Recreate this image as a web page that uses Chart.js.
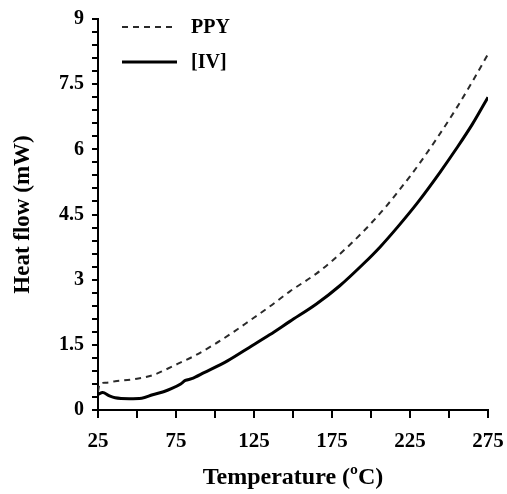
<!DOCTYPE html>
<html>
<head>
<meta charset="utf-8">
<script src="https://cdn.jsdelivr.net/npm/chart.js@4"></script>
<style>
  html, body { margin: 0; padding: 0; background: #fff; }
  #wrap { width: 507px; height: 494px; }
</style>
</head>
<body>
<div id="wrap"><canvas id="grafico" width="507" height="494"></canvas></div>
<script>
// datos
const seriesNames = ['PPY', '[IV]'];
const ppyTemp = [25, 26, 30, 36, 50, 60, 66, 76, 87, 100, 112, 122, 135, 148, 165, 175, 194, 210, 225, 231, 242, 255, 265, 275];
const ppyFlow = [0.42, 0.60, 0.63, 0.66, 0.72, 0.80, 0.89, 1.06, 1.25, 1.52, 1.80, 2.05, 2.38, 2.73, 3.14, 3.43, 4.07, 4.70, 5.38, 5.67, 6.24, 6.96, 7.56, 8.19];
const ivTemp = [25, 28, 32, 36, 45, 53, 60, 67, 72, 78, 81, 85, 93, 108, 122, 135, 148, 165, 180, 195, 206, 217, 230, 244, 255, 265, 275];
const ivFlow = [0.36, 0.40, 0.33, 0.28, 0.26, 0.27, 0.35, 0.42, 0.49, 0.60, 0.68, 0.72, 0.86, 1.13, 1.44, 1.73, 2.04, 2.44, 2.86, 3.36, 3.76, 4.21, 4.78, 5.46, 6.03, 6.58, 7.20];
const yTicks = [0, 1.5, 3, 4.5, 6, 7.5, 9];
const xTicks = [25, 75, 125, 175, 225, 275];

const serif = '"Liberation Serif", "Times New Roman", serif';

// leyenda dentro del area del grafico
const leyenda = {
    id: 'leyenda',
    afterDraw(chart) {
        const ctx = chart.ctx;
        const a = chart.chartArea;
        const filas = [a.top + 8, a.top + 43];
        ctx.save();
        chart.data.datasets.forEach((ds, i) => {
            const y = filas[i];
            ctx.beginPath();
            ctx.setLineDash(ds.borderDash || []);
            ctx.strokeStyle = ds.borderColor;
            ctx.lineWidth = ds.borderWidth;
            ctx.moveTo(a.left + 24, y);
            ctx.lineTo(a.left + 79, y);
            ctx.stroke();
            ctx.setLineDash([]);
            ctx.fillStyle = '#000';
            ctx.font = 'bold 20px ' + serif;
            ctx.textBaseline = 'middle';
            ctx.fillText(ds.label, a.left + 93, y + 1);
        });
        ctx.restore();
    }
};

new Chart(document.getElementById('grafico'), {
    type: 'line',
    data: {
        datasets: [
            {
                label: seriesNames[0],
                data: ppyTemp.map((t, i) => ({ x: t, y: ppyFlow[i] })),
                borderColor: '#2a2a2a',
                borderWidth: 2,
                borderDash: [6, 5],
                pointRadius: 0,
                cubicInterpolationMode: 'monotone',
                fill: false
            },
            {
                label: seriesNames[1],
                data: ivTemp.map((t, i) => ({ x: t, y: ivFlow[i] })),
                borderColor: '#000',
                borderWidth: 3,
                pointRadius: 0,
                cubicInterpolationMode: 'monotone',
                fill: false
            }
        ]
    },
    options: {
        responsive: false,
        animation: false,
        layout: { padding: { top: 19, right: 19, left: 0, bottom: 0 } },
        plugins: { legend: { display: false }, tooltip: { enabled: false } },
        scales: {
            x: {
                type: 'linear',
                min: 25, max: 275,
                afterFit: s => { s.height = 84; s.paddingLeft = 0; s.paddingRight = 0; },
                ticks: {
                    stepSize: 25,
                    autoSkip: false,
                    maxRotation: 0,
                    color: '#000',
                    font: { family: serif, size: 21, weight: 'bold' },
                    padding: 11,
                    callback: v => xTicks.includes(v) ? String(v) : ''
                },
                grid: { drawOnChartArea: false, color: '#000', lineWidth: 2, tickLength: 8 },
                border: { color: '#000', width: 2 },
                title: {
                    display: true,
                    text: 'Temperature (\u00BAC)',
                    color: '#000',
                    font: { family: serif, size: 24, weight: 'bold' },
                    padding: { top: 0, bottom: 2 }
                }
            },
            y: {
                min: 0, max: 9,
                afterFit: s => { s.width = 98; s.paddingTop = 0; s.paddingBottom = 0; },
                ticks: {
                    stepSize: 0.3,
                    autoSkip: false,
                    color: '#000',
                    font: { family: serif, size: 20, weight: 'bold' },
                    padding: 8,
                    callback: v => {
                        const r = Math.round(v * 10) / 10;
                        return yTicks.includes(r) ? String(r) : '';
                    }
                },
                grid: { drawOnChartArea: false, color: '#000', lineWidth: 2, tickLength: 6 },
                border: { color: '#000', width: 2 },
                title: {
                    display: true,
                    text: 'Heat flow (mW)',
                    color: '#000',
                    font: { family: serif, size: 23, weight: 'bold' },
                    padding: { top: 9, bottom: 0 }
                }
            }
        }
    },
    plugins: [leyenda]
});
</script>
</body>
</html>
